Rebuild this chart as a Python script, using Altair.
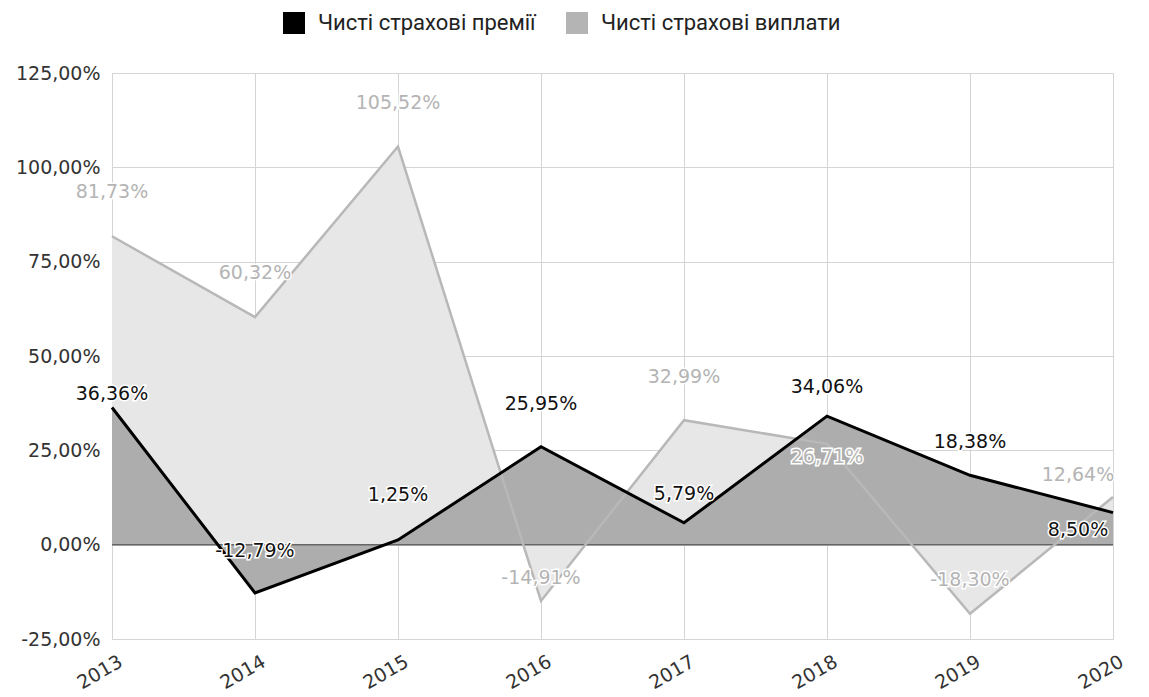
import altair as alt
import pandas as pd

years = ["2013", "2014", "2015", "2016", "2017", "2018", "2019", "2020"]
premiums = [36.36, -12.79, 1.25, 25.95, 5.79, 34.06, 18.38, 8.50]
payouts = [81.73, 60.32, 105.52, -14.91, 32.99, 26.71, -18.30, 12.64]
series_names = ["Чисті страхові премії", "Чисті страхові виплати"]
y_ticks = [-25, 0, 25, 50, 75, 100, 125]

# label placement (pixels) relative to each point
prem_dy = [-13, -42, -45, -43, -29, -29, -33, 17]
prem_dx = [0, 0, 0, 0, 0, 0, 0, -35]
pay_dy = [-44, -44, -44, -23, -43, 13, -34, -22]
pay_dx = [0, 0, 0, 0, 0, 0, 0, -35]

rows = []
for i, yr in enumerate(years):
    rows.append({"year": yr, "value": premiums[i], "series": series_names[0],
                 "dy": prem_dy[i], "dx": prem_dx[i]})
for i, yr in enumerate(years):
    rows.append({"year": yr, "value": payouts[i], "series": series_names[1],
                 "dy": pay_dy[i], "dx": pay_dx[i]})
df = pd.DataFrame(rows)

FONT = "DejaVu Sans"
FS = 19
FMT = "replace(replace(format({v}, '.2f'), '.', ','), '\u2212', '-') + '%'"

x_enc = alt.X("year:O", scale=alt.Scale(type="point", padding=0),
              axis=alt.Axis(title=None, labelAngle=-30, labelAlign="right",
                            labelBaseline="top", labelFontSize=FS, labelColor="#333",
                            labelPadding=13, labelOffset=4, ticks=False, domain=False,
                            grid=True, gridColor="#d4d4d4", labelFont=FONT))
y_enc = alt.Y("value:Q", scale=alt.Scale(domain=[-25, 125], nice=False),
              axis=alt.Axis(title=None, values=y_ticks, labelFontSize=FS,
                            labelColor="#333", ticks=False, domain=False,
                            gridColor="#d4d4d4", labelPadding=12, labelFont=FONT,
                            labelExpr=FMT.format(v="datum.value")))

color_enc = alt.Color("series:N",
                      scale=alt.Scale(domain=series_names, range=["#000000", "#b4b4b4"]),
                      legend=alt.Legend(title=None, orient="none", direction="horizontal",
                                        legendX=171, legendY=-61, symbolType="square",
                                        symbolSize=484, symbolStrokeWidth=0,
                                        labelFontSize=22, labelColor="#222", labelFont="Roboto",
                                        labelLimit=0, labelOffset=13, columnPadding=30,
                                        padding=0, symbolOpacity=1))

base = alt.Chart(df).encode(x=x_enc, y=y_enc)

pay = base.transform_filter(alt.datum.series == series_names[1])
prem = base.transform_filter(alt.datum.series == series_names[0])

legend_pts = base.mark_square(size=0, filled=True, opacity=1).encode(color=color_enc)

pay_area = pay.mark_area(color="#e7e7e7", opacity=1)
prem_area = prem.mark_area(color="#adadad", opacity=1)
pay_line = pay.mark_line(color="#b8b8b8", strokeWidth=2.5)
prem_line = prem.mark_line(color="#000000", strokeWidth=3)

zero = alt.Chart(pd.DataFrame({"z": [0]})).mark_rule(color="#666666", strokeWidth=1.5).encode(y="z:Q")

lab = FMT.format(v="datum.value")
text_props = dict(fontSize=FS, font=FONT, dx=alt.expr("datum.dx"), dy=alt.expr("datum.dy"))

pay_halo = pay.transform_calculate(label=lab).mark_text(
    stroke="white", strokeWidth=3, fill="white", **text_props).encode(text="label:N")
pay_text = pay.transform_calculate(label=lab).mark_text(
    fill="#b4b4b4", **text_props).encode(text="label:N")
prem_halo = prem.transform_calculate(label=lab).mark_text(
    stroke="white", strokeWidth=3, fill="white", **text_props).encode(text="label:N")
prem_text = prem.transform_calculate(label=lab).mark_text(
    fill="#111111", **text_props).encode(text="label:N")

chart = alt.layer(legend_pts, pay_area, prem_area, zero, pay_line, prem_line,
                  pay_halo, pay_text, prem_halo, prem_text).properties(
    width=1001, height=566,
    autosize=alt.AutoSizeParams(type="none"),
    padding={"left": 112, "top": 73, "right": 36, "bottom": 58},
).configure_view(stroke=None).configure(background="white")

chart.save("out.html", embed_options={"renderer": "svg", "actions": False})
